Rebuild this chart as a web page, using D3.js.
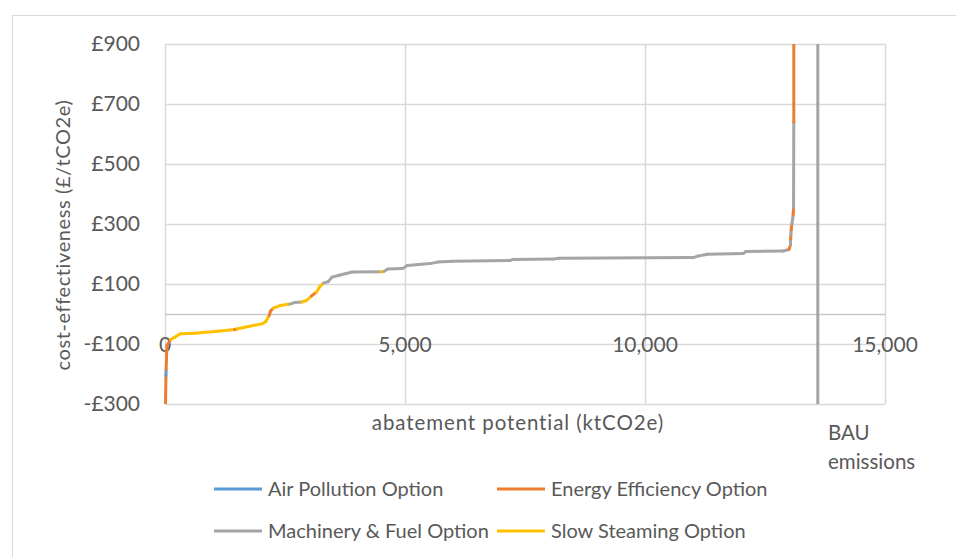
<!DOCTYPE html>
<html><head><meta charset="utf-8">
<script src="https://cdn.jsdelivr.net/npm/d3@7"></script>
<style>body{margin:0;background:#fff}svg text{font-family:Lato,"Open Sans",sans-serif;fill:#595959}</style>
</head><body><svg id="c" width="956" height="557"></svg>
<script>
// cumulative abatement (ktCO2e), cost (£/tCO2e), category of each point
const abatement = [0,10,20,24,40,120,210,320,620,830,1050,1450,1500,1660,2040,2100,2170,2200,2260,2400,2600,2700,2850,2950,3050,3150,3230,3300,3400,3480,3650,3900,4500,4560,4640,4950,5050,5520,5680,6000,7180,7250,8100,8200,11000,11100,11300,12050,12100,12880,13000,13030,13035,13040,13045,13060,13080,13085,13090,13095,13100,13100];
const cost =      [-330,-300,-205,-185,-105,-85,-77,-66,-64,-61,-58,-52,-50,-44,-32,-25,-5,10,20,28,33,38,40,45,60,72,92,103,108,123,130,140,141,142,150,152,162,168,173,176,178,182,183,186,188,193,199,202,208,210,215,230,250,265,280,300,320,330,340,355,640,1000];
const category =  ["EE","EE","EE","AP","EE","EE","SS","SS","SS","SS","SS","SS","EE","SS","SS","SS","SS","EE","EE","SS","SS","MF","MF","SS","SS","EE","SS","SS","MF","MF","MF","MF","MF","SS","MF","MF","MF","MF","MF","MF","MF","MF","MF","MF","MF","MF","MF","MF","MF","MF","MF","EE","MF","EE","MF","EE","MF","MF","EE","EE","MF","EE"];
const seriesKeys = ["AP","EE","MF","SS"];
const seriesNames = ["Air Pollution Option","Energy Efficiency Option","Machinery & Fuel Option","Slow Steaming Option"];
const seriesColors = ["#5B9BD5","#ED7D31","#A5A5A5","#FFC000"];
const yTicks = [-300,-100,100,300,500,700,900];
const xTicks = [0,5000,10000,15000];
const bauEmissions = 13600;

const svg = d3.select("#c");
const x = d3.scaleLinear().domain([0,15000]).range([165,885]);
const y = d3.scaleLinear().domain([-300,900]).range([404,44]);
const col = d3.scaleOrdinal().domain(seriesKeys).range(seriesColors);

// outer border
svg.append("rect").attr("x",12.5).attr("y",15.5).attr("width",960).attr("height",560)
  .attr("fill","none").attr("stroke","#D9D9D9").attr("stroke-width",1);

// gridlines
svg.append("g").selectAll("line").data(yTicks).join("line")
  .attr("x1",x(0)).attr("x2",x(15000)).attr("y1",d=>Math.round(y(d))+0.5).attr("y2",d=>Math.round(y(d))+0.5)
  .attr("stroke","#D9D9D9").attr("stroke-width",1.5);
svg.append("g").selectAll("line").data(xTicks).join("line")
  .attr("x1",d=>Math.round(x(d))+0.5).attr("x2",d=>Math.round(x(d))+0.5).attr("y1",y(900)).attr("y2",y(-300))
  .attr("stroke","#D9D9D9").attr("stroke-width",1.5);
// x axis line at 0
svg.append("line").attr("x1",x(0)).attr("x2",x(15000)).attr("y1",Math.round(y(0))+0.5).attr("y2",Math.round(y(0))+0.5)
  .attr("stroke","#C8C8C8").attr("stroke-width",1.5);

// tick labels
svg.append("g").selectAll("text").data(yTicks).join("text")
  .attr("x",140).attr("y",d=>y(d)).attr("dy","0.35em").attr("text-anchor","end")
  .attr("font-size",21).text(d=>(d<0?"-":"")+"£"+Math.abs(d));
svg.append("g").selectAll("text").data(xTicks).join("text")
  .attr("x",d=>x(d)).attr("y",y(0)+31).attr("dy","0.35em").attr("text-anchor","middle")
  .attr("font-size",21).text(d=>d3.format(",")(d));

// axis titles
svg.append("text").attr("transform","translate(63,235) rotate(-90)").attr("text-anchor","middle")
  .attr("dy","0.35em").attr("font-size",20).attr("letter-spacing",0.6).text("cost-effectiveness (£/tCO2e)");
svg.append("text").attr("x",518).attr("y",423).attr("dy","0.35em").attr("text-anchor","middle")
  .attr("font-size",20.5).attr("letter-spacing",0.9).text("abatement potential (ktCO2e)");
svg.append("text").attr("x",828).attr("y",433).attr("dy","0.35em").attr("font-size",20.5).text("BAU");
svg.append("text").attr("x",828).attr("y",462).attr("dy","0.35em").attr("font-size",20.5).text("emissions");

// clip
svg.append("clipPath").attr("id","pc").append("rect").attr("x",x(0)-3).attr("y",y(900)).attr("width",x(15000)-x(0)+6).attr("height",y(-300)-y(900));

// BAU line
svg.append("line").attr("x1",x(bauEmissions)).attr("x2",x(bauEmissions)).attr("y1",y(900)).attr("y2",y(-300))
  .attr("stroke","#A5A5A5").attr("stroke-width",3);

// curve segments
const pts = abatement.map((a,i)=>({a,c:cost[i],k:category[i]}));
const segs = d3.pairs(pts);
svg.append("g").attr("clip-path","url(#pc)").selectAll("line").data(segs).join("line")
  .attr("x1",d=>x(d[0].a)).attr("y1",d=>y(d[0].c)).attr("x2",d=>x(d[1].a)).attr("y2",d=>y(d[1].c))
  .attr("stroke",d=>col(d[1].k)).attr("stroke-width",3).attr("stroke-linecap","round");

// legend
const lg = svg.append("g").selectAll("g").data(seriesKeys).join("g")
  .attr("transform",(d,i)=>`translate(${i%2?497:214},${i<2?489:531})`);
lg.append("line").attr("x1",0).attr("x2",48).attr("stroke",d=>col(d)).attr("stroke-width",3);
lg.append("text").attr("x",54).attr("dy","0.35em").attr("font-size",20).text((d,i)=>seriesNames[i]);
</script></body></html>
